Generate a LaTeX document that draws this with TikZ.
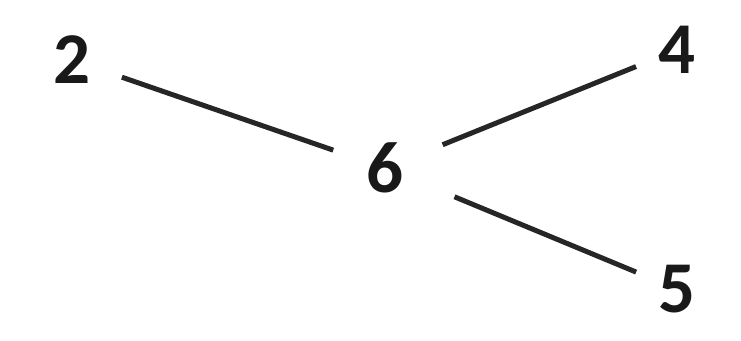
\documentclass[tikz,border=0pt]{standalone}
\usepackage{fontspec}
\setmainfont{Carlito}
\begin{document}
\begin{tikzpicture}[x=1pt,y=-1pt,
  num/.style={inner sep=0pt, font=\fontsize{73}{73}\selectfont\bfseries, text=black!90},
  edge/.style={line width=5pt, color=black!85}]
\useasboundingbox[fill=white] (0,0) rectangle (741,340);
\node[num] (n2) at (72,60) {2};
\node[num] (n6) at (385,168) {6};
\node[num] (n4) at (677,50) {4};
\node[num] (n5) at (677,289) {5};
\draw[edge, shorten <=47pt-14pt, shorten >=50pt-15pt] (n2) -- (n6);
\draw[edge, shorten <=58pt-16pt, shorten >=38pt-14pt] (n6) -- (n4);
\draw[edge, shorten <=71pt-16pt, shorten >=38pt-14pt] (n6) -- (n5);
\end{tikzpicture}
\end{document}
